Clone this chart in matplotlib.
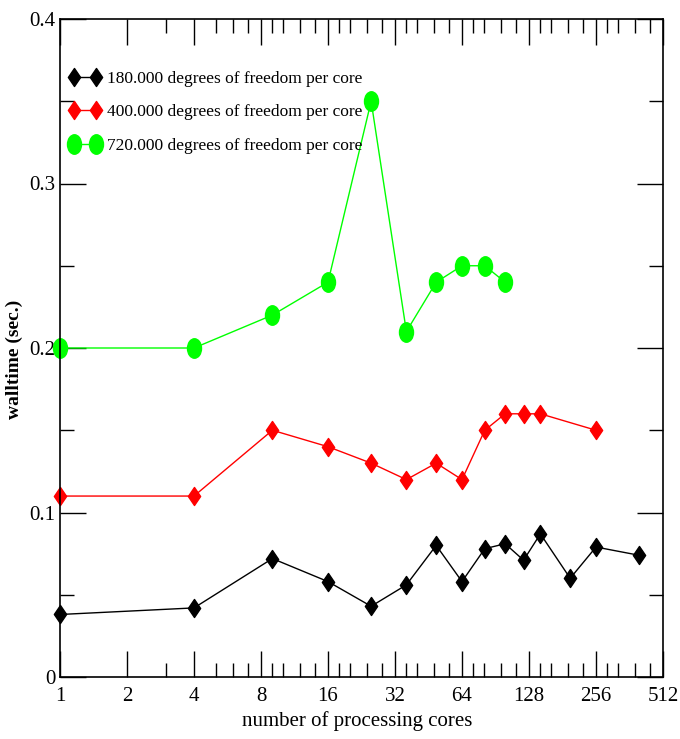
import numpy as np
import matplotlib.pyplot as plt
from matplotlib.path import Path

plt.rcParams['font.family'] = ['Liberation Serif', 'DejaVu Serif']

cores = [1, 4, 9, 16, 25, 36, 49, 64, 81, 100, 121, 144, 196, 256, 400]
dof180 = [0.038, 0.042, 0.072, 0.058, 0.043, 0.056, 0.080, 0.058, 0.078, 0.081,
          0.071, 0.087, 0.060, 0.079, 0.074]
cores400 = [1, 4, 9, 16, 25, 36, 49, 64, 81, 100, 121, 144, 256]
dof400 = [0.11, 0.11, 0.15, 0.14, 0.13, 0.12, 0.13, 0.12, 0.15, 0.16, 0.16, 0.16, 0.15]
cores720 = [1, 4, 9, 16, 25, 36, 49, 64, 81, 100]
dof720 = [0.20, 0.20, 0.22, 0.24, 0.35, 0.21, 0.24, 0.25, 0.25, 0.24]
labels = ['180.000 degrees of freedom per core',
          '400.000 degrees of freedom per core',
          '720.000 degrees of freedom per core']
xticks = [1, 2, 4, 8, 16, 32, 64, 128, 256, 512]

# narrow marker shapes (picture is squeezed sideways)
circ = Path.unit_circle()
ellipse = Path(circ.vertices * [0.72, 1.0], circ.codes)
diamond = Path([(0, 1), (0.68, 0), (0, -1), (-0.68, 0), (0, 1)],
               [Path.MOVETO, Path.LINETO, Path.LINETO, Path.LINETO, Path.CLOSEPOLY])

fig = plt.figure(figsize=(6.8, 7.39), dpi=100)
ax = fig.add_axes([60/680, 1-677/739, 603/680, 658/739])

ax.plot(cores, dof180, color='black', lw=1, marker=diamond, ms=13, label=labels[0], clip_on=False)
ax.plot(cores400, dof400, color='#ff0000', lw=1, marker=diamond, ms=13, label=labels[1], clip_on=False)
ax.plot(cores720, dof720, color='#00ff00', lw=1, marker=ellipse, ms=14, label=labels[2], clip_on=False)

ax.set_xscale('log', base=2)
ax.set_xlim(1, 512)
ax.set_ylim(0, 0.4)
ax.set_xticks(xticks)
ax.set_xticklabels([str(t) for t in xticks])
minor = []
for m in xticks[:-1]:
    for f in (1.125, 1.25, 1.5, 1.75):
        v = m * f
        if v == int(v):
            minor.append(v)
ax.set_xticks(minor, minor=True)
ax.xaxis.set_minor_formatter(plt.NullFormatter())
ax.set_yticks([0, 0.1, 0.2, 0.3, 0.4])
ax.set_yticklabels(['0', '0.1', '0.2', '0.3', '0.4'])
ax.set_yticks(np.arange(0.05, 0.4, 0.1), minor=True)

ax.tick_params(which='both', direction='in', top=True, right=True, labelsize=15, width=1)
ax.tick_params(which='major', length=19)
ax.tick_params(which='minor', length=10)
ax.tick_params(axis='x', which='major', pad=7)
for s in ax.spines.values():
    s.set_linewidth(1.2)

ax.set_xlabel('number of processing cores', fontsize=15)
ax.xaxis.set_label_coords(0.493, -0.052)
ax.set_ylabel('walltime (sec.)', fontsize=14, fontweight='bold')
ax.yaxis.set_label_coords(-0.061, 0.482)

ax.legend(loc='upper left', bbox_to_anchor=(0.0, 0.934), frameon=False, fontsize=12.5,
          numpoints=2, handlelength=1.9, handletextpad=0.3, labelspacing=0.98,
          borderaxespad=0.1)

fig.savefig('out.png', dpi=100)
